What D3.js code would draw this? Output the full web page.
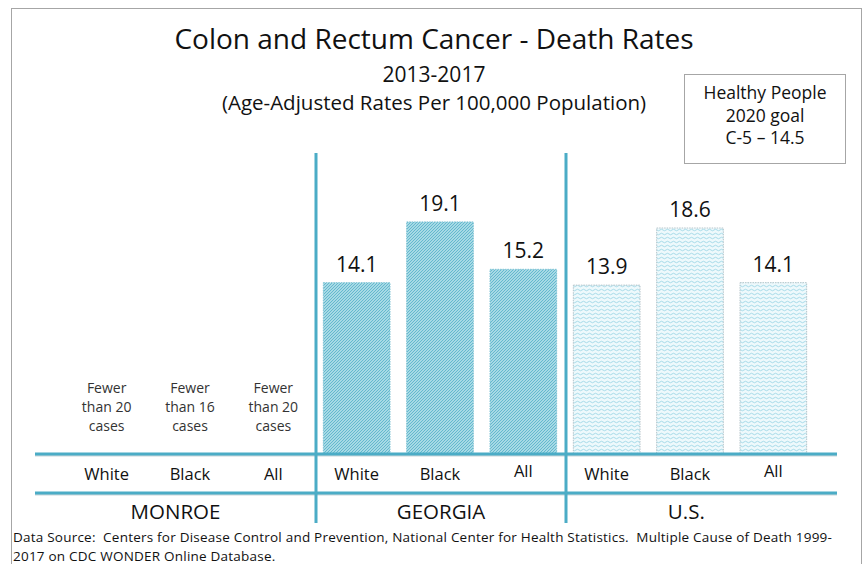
<!DOCTYPE html>
<html>
<head>
<meta charset="utf-8">
<script src="https://cdn.jsdelivr.net/npm/d3@7.9.0/dist/d3.min.js"></script>
<style>
  body { margin: 0; background: #fff; }
  svg { display: block; font-family: "Open Sans", "Noto Sans", sans-serif; }
</style>
</head>
<body>
<div id="viz"></div>
<script>
// chart values
const groups = ["MONROE", "GEORGIA", "U.S."];
const races = ["White", "Black", "All"];
const monroeNotes = [
    ["Fewer", "than 20", "cases"],
    ["Fewer", "than 16", "cases"],
    ["Fewer", "than 20", "cases"]
];
const georgiaRates = [14.1, 19.1, 15.2];
const usRates = [13.9, 18.6, 14.1];
const titleLines = ["Colon and Rectum Cancer - Death Rates", "2013-2017", "(Age-Adjusted Rates Per 100,000 Population)"];
const goalLines = ["Healthy People", "2020 goal", "C-5 \u2013 14.5"];
const sourceLines = [
    "Data Source:  Centers for Disease Control and Prevention, National Center for Health Statistics.  Multiple Cause of Death 1999-",
    "2017 on CDC WONDER Online Database."
];

const width = 867;
const height = 564;
const accent = "#4bacc6";
const baseY = 454;      // bar baseline / first rule
const ruleY2 = 493;     // second rule
const ruleX = [35, 837];

const svg = d3.select("#viz")
    .append("svg")
    .attr("width", width)
    .attr("height", height);

// patterns for the bars
const defs = svg.append("defs");
const diag = defs.append("pattern")
    .attr("id", "diag")
    .attr("patternUnits", "userSpaceOnUse")
    .attr("width", 3)
    .attr("height", 3);
diag.append("rect").attr("width", 3).attr("height", 3).attr("fill", "#c4e8f0");
diag.append("path")
    .attr("d", "M-1,1 l2,-2 M0,3 l3,-3 M2,4 l2,-2")
    .attr("stroke", "#5fb6cc")
    .attr("stroke-width", 1.1);

const wave = defs.append("pattern")
    .attr("id", "wave")
    .attr("patternUnits", "userSpaceOnUse")
    .attr("width", 6)
    .attr("height", 4);
wave.append("rect").attr("width", 6).attr("height", 4).attr("fill", "#eef9fc");
wave.append("path")
    .attr("d", "M0,2 Q1.5,0.5 3,2 T6,2")
    .attr("fill", "none")
    .attr("stroke", "#a6dbe8")
    .attr("stroke-width", 1);

// outer frame
svg.append("rect")
    .attr("x", 11.5)
    .attr("y", 8.5)
    .attr("width", 850)
    .attr("height", 600)
    .attr("fill", "none")
    .attr("stroke", "#a6a6a6");

// title block
const titleSizes = [28, 21, 20.5];
const titleYs = [49, 82, 110];
svg.selectAll("text.title")
    .data(titleLines)
    .join("text")
    .attr("class", "title")
    .attr("x", 434)
    .attr("y", (d, i) => titleYs[i])
    .attr("text-anchor", "middle")
    .attr("font-size", (d, i) => titleSizes[i])
    .attr("fill", "#111")
    .text(d => d);

// goal box
svg.append("rect")
    .attr("x", 684.5)
    .attr("y", 74.5)
    .attr("width", 161)
    .attr("height", 89)
    .attr("fill", "#fff")
    .attr("stroke", "#a6a6a6");
svg.selectAll("text.goal")
    .data(goalLines)
    .join("text")
    .attr("class", "goal")
    .attr("x", 765)
    .attr("y", (d, i) => 99 + i * 22.5)
    .attr("text-anchor", "middle")
    .attr("font-size", 17.5)
    .attr("fill", "#111")
    .text(d => d);

// scales
const x0 = d3.scaleBand()
    .domain(groups)
    .range([65, 815])
    .padding(0);
const x1 = d3.scaleBand()
    .domain(races)
    .range([0, x0.bandwidth()])
    .paddingInner(0.2)
    .paddingOuter(0.1);
const y = d3.scaleLinear()
    .domain([0, 20])
    .range([baseY, baseY - 243]);

const bars = [
    ...races.map((r, i) => ({ group: "GEORGIA", race: r, value: georgiaRates[i], fill: "url(#diag)" })),
    ...races.map((r, i) => ({ group: "U.S.", race: r, value: usRates[i], fill: "url(#wave)" }))
];

const cx = d => x0(d.group) + x1(d.race) + x1.bandwidth() / 2;

svg.selectAll("rect.bar")
    .data(bars)
    .join("rect")
    .attr("class", "bar")
    .attr("x", d => x0(d.group) + x1(d.race))
    .attr("y", d => y(d.value))
    .attr("width", x1.bandwidth())
    .attr("height", d => baseY - y(d.value))
    .attr("fill", d => d.fill)
    .attr("stroke", d => d.group === "GEORGIA" ? "#7fc3d4" : "#b4c4ca")
    .attr("stroke-width", 1)
    .attr("stroke-dasharray", "1.5,1");

// value labels
svg.selectAll("text.value")
    .data(bars)
    .join("text")
    .attr("class", "value")
    .attr("x", cx)
    .attr("y", d => y(d.value) - 11)
    .attr("text-anchor", "middle")
    .attr("font-size", 21)
    .attr("fill", "#111")
    .text(d => d.value.toFixed(1));

// Monroe notes (no bars)
const notes = svg.selectAll("text.note")
    .data(monroeNotes.map((lines, i) => ({ group: "MONROE", race: races[i], lines })))
    .join("text")
    .attr("class", "note")
    .attr("text-anchor", "middle")
    .attr("font-size", 14)
    .attr("fill", "#333");
notes.selectAll("tspan")
    .data(d => d.lines.map(l => ({ l, x: cx(d) })))
    .join("tspan")
    .attr("x", d => d.x)
    .attr("y", (d, i) => 393 + i * 19)
    .text(d => d.l);

// rules
[baseY, ruleY2].forEach(ry => {
    svg.append("line")
        .attr("x1", ruleX[0])
        .attr("x2", ruleX[1])
        .attr("y1", ry + 1.5)
        .attr("y2", ry + 1.5)
        .attr("stroke", "#c9d6da")
        .attr("stroke-width", 2);
    svg.append("line")
        .attr("x1", ruleX[0])
        .attr("x2", ruleX[1])
        .attr("y1", ry)
        .attr("y2", ry)
        .attr("stroke", accent)
        .attr("stroke-width", 3);
});

// vertical dividers between groups
const divX = d => x0(d) + 1;
svg.selectAll("line.divider")
    .data(groups.slice(1))
    .join("line")
    .attr("class", "divider")
    .attr("x1", divX)
    .attr("x2", divX)
    .attr("y1", 153)
    .attr("y2", 523)
    .attr("stroke", accent)
    .attr("stroke-width", 3);

// race labels
const raceLabels = groups.flatMap(g => races.map(r => ({ group: g, race: r })));
svg.selectAll("text.race")
    .data(raceLabels)
    .join("text")
    .attr("class", "race")
    .attr("x", cx)
    .attr("y", d => (d.race === "All" && d.group !== "MONROE") ? 477 : 480)
    .attr("text-anchor", "middle")
    .attr("font-size", 16.5)
    .attr("fill", "#111")
    .text(d => d.race);

// group labels, centred in each panel (U.S. panel ends at its last bar)
const panelEdges = [ruleX[0], divX("GEORGIA"), divX("U.S."), x0("U.S.") + x1("All") + x1.bandwidth()];
svg.selectAll("text.group")
    .data(groups)
    .join("text")
    .attr("class", "group")
    .attr("x", (d, i) => (panelEdges[i] + panelEdges[i + 1]) / 2)
    .attr("y", 519)
    .attr("text-anchor", "middle")
    .attr("font-size", 20.5)
    .attr("fill", "#111")
    .text(d => d);

// source note
svg.selectAll("text.source")
    .data(sourceLines)
    .join("text")
    .attr("class", "source")
    .attr("x", 13)
    .attr("y", (d, i) => 542 + i * 19)
    .attr("font-size", 13.5)
    .attr("letter-spacing", 0.22)
    .style("white-space", "pre")
    .attr("fill", "#111")
    .text(d => d);
</script>
</body>
</html>
